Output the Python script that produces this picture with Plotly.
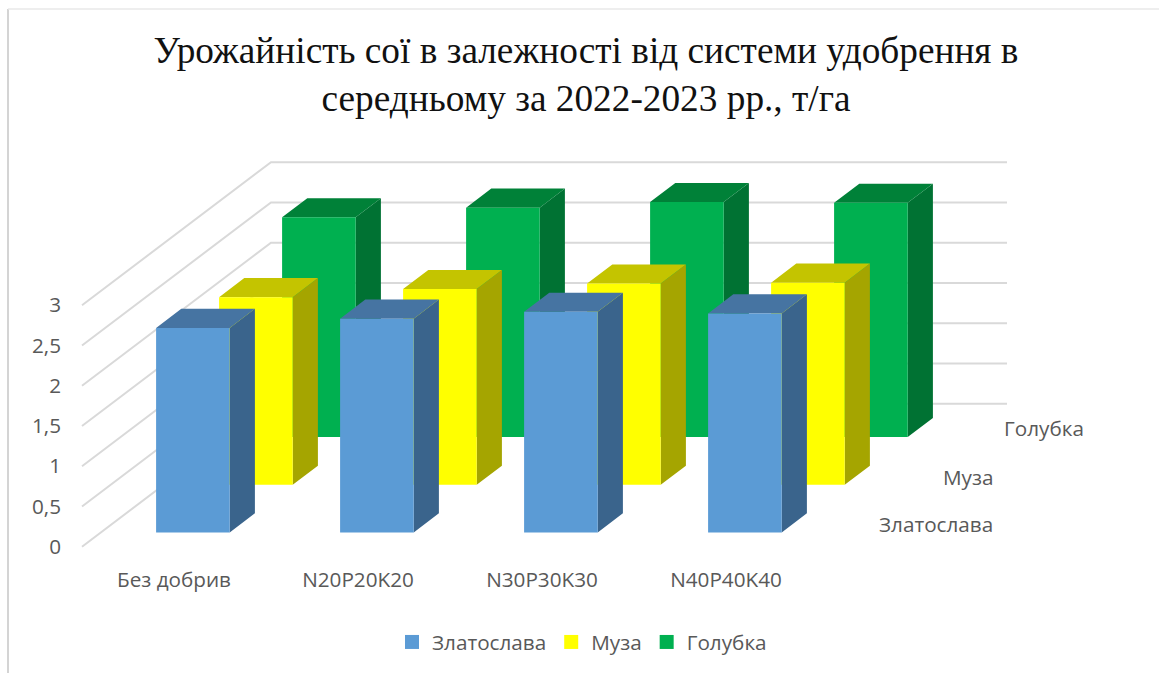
import plotly.graph_objects as go

# ---- data ----
categories = ["Без добрив", "N20P20K20", "N30P30K30", "N40P40K40"]
series_names = ["Златослава", "Муза", "Голубка"]
zlatoslava = [2.54, 2.655, 2.74, 2.72]
muza = [2.33, 2.43, 2.50, 2.51]
holubka = [2.73, 2.85, 2.92, 2.91]
value_ticks = [0, 0.5, 1, 1.5, 2, 2.5, 3]
value_tick_labels = ["0", "0,5", "1", "1,5", "2", "2,5", "3"]
title_lines = ["Урожайність сої в залежності від системи удобрення в",
               "середньому за 2022-2023 рр., т/га"]

# ---- styles ----
front_colors = ["#5B9BD5", "#FFFF00", "#00B050"]
top_colors = ["#4674A2", "#C4C400", "#008138"]
side_colors = ["#3A648C", "#A5A500", "#007233"]
grid_color = "#D9D9D9"
text_color = "#595959"
ui_font = "Open Sans"
ui_size = 20.7

# ---- layout geometry (pixels) ----
W, H = 1159, 673
PL, PR, PT, PB = 62, 1050, 130, 565   # plot area
X0, Y0 = 82.0, 546.7                  # front-left foot of the chart box
CAT_PX, VAL_PX = 184.0, 80.5          # px per category, px per unit of value
DX_PX, DY_PX = 63.0, 47.67            # px per depth step (one series)
BAR_W, GAP = 0.4, 0.3                 # bar width / leading gap, in slots


def project(c, d, v):
    """Oblique projection of (category, depth, value) to axis coordinates."""
    return c + d * DX_PX / CAT_PX, v + d * DY_PX / VAL_PX


def polys(faces):
    xs, ys = [], []
    for face in faces:
        pts = [project(*p) for p in face]
        pts.append(pts[0])
        xs += [p[0] for p in pts] + [None]
        ys += [p[1] for p in pts] + [None]
    return xs, ys


def px_x(px):
    return (px - PL) / (PR - PL)


def px_y(py):
    return (PB - py) / (PB - PT)


fig = go.Figure()

# gridlines on the walls
for v in value_ticks:
    pts = [project(0, 0, v), project(0, 3, v), project(len(categories), 3, v)]
    fig.add_trace(go.Scatter(x=[p[0] for p in pts], y=[p[1] for p in pts], mode="lines",
                             line=dict(color=grid_color, width=2), showlegend=False,
                             hoverinfo="skip"))

# bars, back series first
all_values = [zlatoslava, muza, holubka]
for s in (2, 1, 0):
    vals = all_values[s]
    d0, d1 = s + GAP, s + GAP + BAR_W
    top, side, front = [], [], []
    for c, v in enumerate(vals):
        c0, c1 = c + GAP, c + GAP + BAR_W
        side.append([(c1, d0, 0), (c1, d1, 0), (c1, d1, v), (c1, d0, v)])
        top.append([(c0, d0, v), (c1, d0, v), (c1, d1, v), (c0, d1, v)])
        front.append([(c0, d0, 0), (c1, d0, 0), (c1, d0, v), (c0, d0, v)])
    for faces, col in ((side, side_colors[s]), (top, top_colors[s]), (front, front_colors[s])):
        x, y = polys(faces)
        fig.add_trace(go.Scatter(x=x, y=y, mode="lines", fill="toself", fillcolor=col,
                                 line=dict(width=0, color=col), showlegend=False,
                                 name=series_names[s], hoverinfo="name"))

# legend entries
for name, col in zip(series_names, front_colors):
    fig.add_trace(go.Scatter(x=[None], y=[None], mode="markers", name=name,
                             marker=dict(symbol="square", size=14, color=col)))

# series labels on the depth axis
for name, cx, cy in zip(series_names, (936, 968, 1044), (524, 477, 428)):
    fig.add_annotation(text=name, xref="paper", yref="paper", x=px_x(cx), y=px_y(cy),
                       xanchor="center", yanchor="middle", showarrow=False,
                       font=dict(family=ui_font, size=ui_size, color=text_color))

# chart-area border (left and top only are visible)
fig.add_shape(type="line", xref="paper", yref="paper", x0=px_x(8), x1=px_x(8), y0=px_y(673), y1=px_y(9),
              line=dict(color="#D4D4D4", width=2))
fig.add_shape(type="line", xref="paper", yref="paper", x0=px_x(8), x1=px_x(1159), y0=px_y(9), y1=px_y(9),
              line=dict(color="#E8E8E8", width=1.5))

fig.update_layout(
    width=W, height=H, paper_bgcolor="white", plot_bgcolor="white",
    margin=dict(l=PL, r=W - PR, t=PT, b=H - PB, pad=0, autoexpand=False),
    font=dict(family=ui_font, color=text_color, size=ui_size),
    title=dict(text="<br>".join(title_lines), x=586 / W, xref="container", xanchor="center",
               y=1 - 63 / H, yref="container", yanchor="top",
               font=dict(family="Liberation Serif", size=37.3, color="#111111")),
    xaxis=dict(range=[(PL - X0) / CAT_PX, (PR - X0) / CAT_PX], showgrid=False, zeroline=False,
               showline=False, ticks="", tickvals=[i + 0.5 for i in range(len(categories))],
               ticktext=categories, tickangle=0, fixedrange=True),
    yaxis=dict(range=[(Y0 - PB) / VAL_PX, (Y0 - PT) / VAL_PX], showgrid=False, zeroline=False,
               showline=False, ticks="", tickvals=value_ticks, ticktext=value_tick_labels,
               fixedrange=True),
    legend=dict(orientation="h", x=px_x(392), y=px_y(622), xanchor="left", yanchor="top",
                font=dict(family=ui_font, size=ui_size, color=text_color), bgcolor="rgba(0,0,0,0)"),
    showlegend=True,
)

fig.write_html("out.html", config={"displayModeBar": False},
               post_script="document.body.style.margin='0';document.documentElement.style.overflow='hidden';")
